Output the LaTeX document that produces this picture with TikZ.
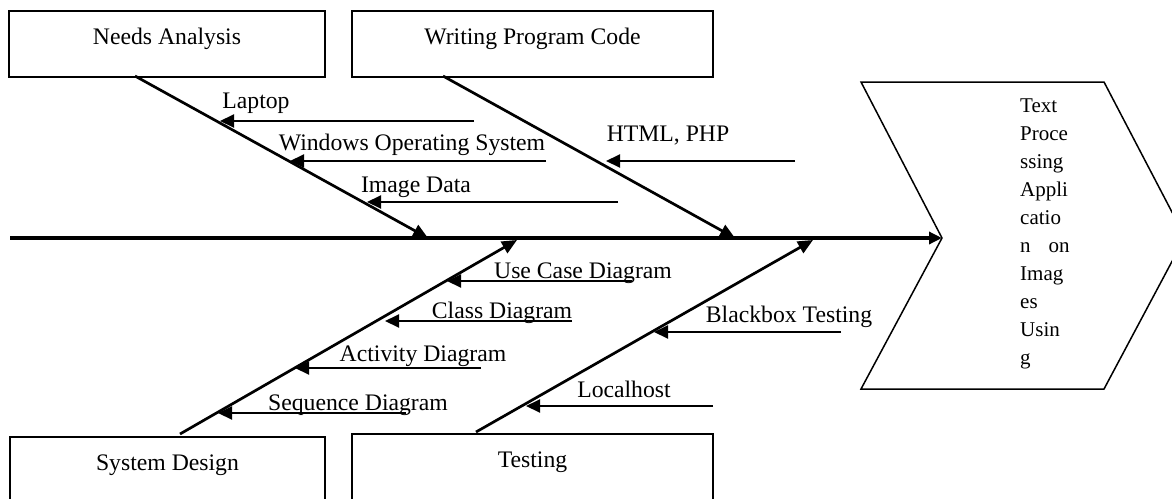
\documentclass[tikz,border=0pt]{standalone}
\usepackage{fontspec}
\setmainfont{Liberation Serif}
\usetikzlibrary{arrows.meta,calc}
\begin{document}
\begin{tikzpicture}[x=1pt,y=-1pt,
  lbl/.style={font=\fontsize{23.7}{28}\selectfont,inner sep=0pt,anchor=base},
  catbox/.style={draw,line width=1.6pt,inner xsep=0pt,inner ysep=0pt,
     font=\fontsize{23.7}{28}\selectfont,text height=34pt},
  bone/.style={line width=2.7pt,-{Triangle[length=15pt,width=13pt]}},
  sub/.style={line width=2pt,-{Triangle[length=14pt,width=13pt]}},
  spine/.style={line width=3.3pt,-{Triangle[length=13pt,width=12pt]}},
  chev/.style={line width=1.5pt,line join=miter}]
\useasboundingbox (0,0) rectangle (1172,498);
\clip (0,0) rectangle (1172,498);

% category boxes
\node[catbox,anchor=north,minimum width=316pt,text depth=32pt] (na) at (167,10) {Needs Analysis};
\node[catbox,anchor=north,minimum width=361pt,text depth=32pt] (wpc) at (532.5,10) {Writing Program Code};
\node[catbox,anchor=north,minimum width=315pt,text depth=80pt] (sd) at (167.5,436) {System Design};
\node[catbox,anchor=north,minimum width=361pt,text depth=80pt] (te) at (532.5,433) {Testing};

% effect chevron
\coordinate (ctl) at (861,82);
\coordinate (ctr) at (1104,82);
\coordinate (ctip) at (1185,237);
\coordinate (cbr) at (1104,389);
\coordinate (cbl) at (861,389);
\coordinate (cn) at (942,238);
\draw[chev] (ctl) -- (ctr) -- (ctip) -- (cbr) -- (cbl) -- (cn) -- cycle;
\node[font=\fontsize{21}{27.9}\selectfont,align=left,inner sep=0pt,anchor=north west] (eff) at (1020,99)
  {Text\\Proce\\ssing\\Appli\\catio\\n\hspace{18pt}on\\Imag\\es\\Usin\\g};

% spine
\coordinate (sp) at (10,238);
\draw[spine] (sp) -- (cn);

% bones
\coordinate (na1) at (135,76);   \coordinate (na2) at (428,238);
\coordinate (wp1) at (443,76);   \coordinate (wp2) at (735,238);
\coordinate (sd1) at (180,434);  \coordinate (sd2) at (517,240);
\coordinate (te1) at (476,432);  \coordinate (te2) at (813,240);
\draw[bone] (na1) -- (na2);
\draw[bone] (wp1) -- (wp2);
\draw[bone] (sd1) -- (sd2);
\draw[bone] (te1) -- (te2);

% causes: right end (r) and tip (t)
\coordinate (lapr) at (474,121); \coordinate (lapt) at (220,121);
\coordinate (winr) at (546,161); \coordinate (wint) at (290,161);
\coordinate (imgr) at (618,202); \coordinate (imgt) at (367,202);
\coordinate (htmr) at (795,161); \coordinate (htmt) at (606,161);
\coordinate (ucr) at (632,281);  \coordinate (uct) at (447,281);
\coordinate (clr) at (572,321);  \coordinate (clt) at (385,321);
\coordinate (acr) at (481,368);  \coordinate (act) at (295,368);
\coordinate (sqr) at (406,413);  \coordinate (sqt) at (218,413);
\coordinate (bbr) at (841,332);  \coordinate (bbt) at (654,332);
\coordinate (lhr) at (713,406);  \coordinate (lht) at (526,406);
\foreach \c in {lap,win,img,htm,uc,cl,ac,sq,bb,lh}
  \draw[sub] (\c r) -- (\c t);

% cause labels
\node[lbl] (laplbl) at (256,108) {Laptop};
\node[lbl] (winlbl) at (412,150) {Windows Operating System};
\node[lbl] (imglbl) at (416,192) {Image Data};
\node[lbl] (htmlbl) at (668,141) {HTML, PHP};
\node[lbl] (uclbl) at (583,278) {Use Case Diagram};
\node[lbl] (cllbl) at (502,318) {Class Diagram};
\node[lbl] (aclbl) at (423,361) {Activity Diagram};
\node[lbl] (sqlbl) at (358,410) {Sequence Diagram};
\node[lbl] (bblbl) at (789,322) {Blackbox Testing};
\node[lbl] (lhlbl) at (624,397) {Localhost};
\end{tikzpicture}
\end{document}
